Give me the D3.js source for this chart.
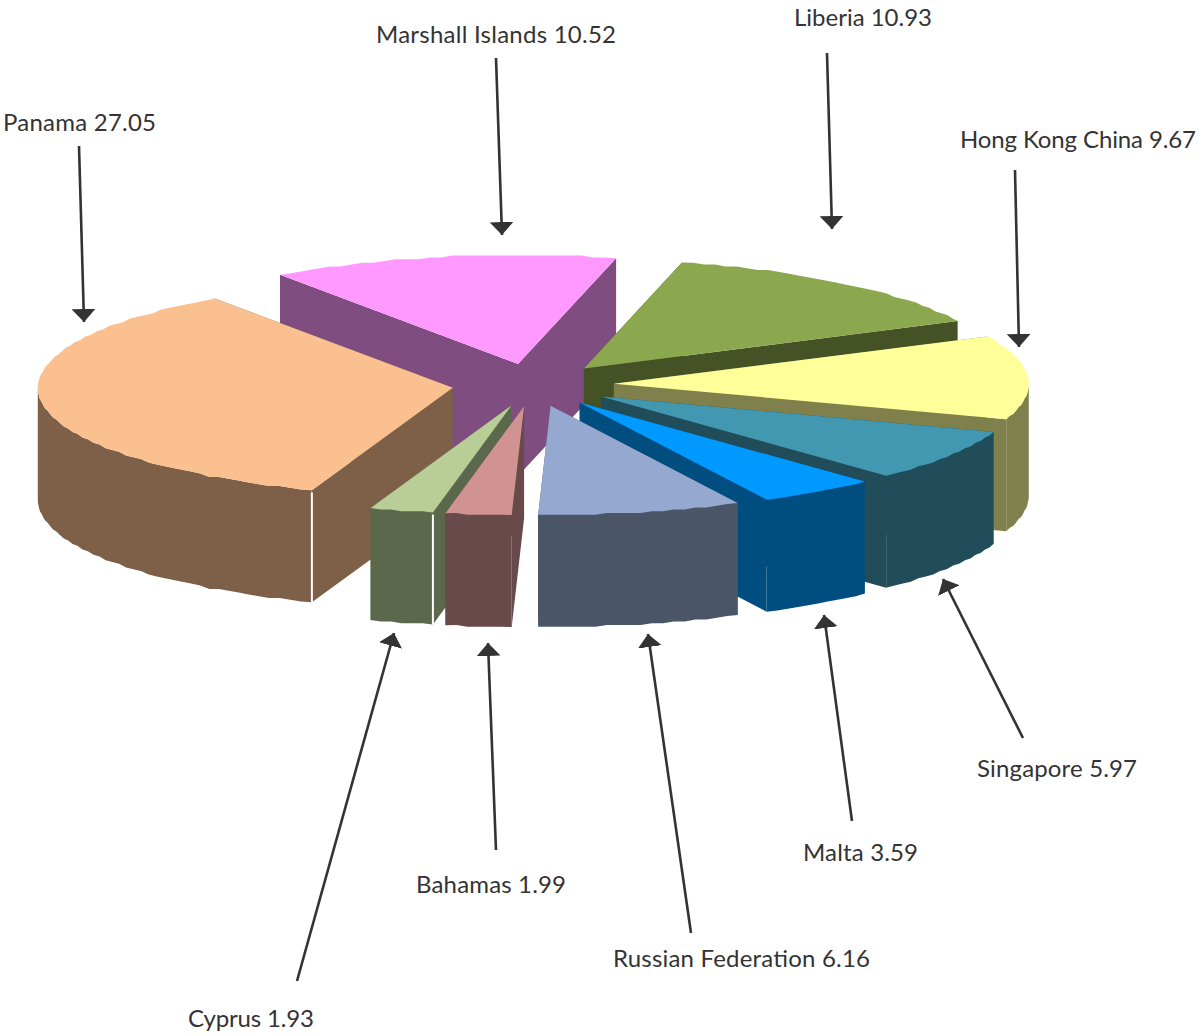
<!DOCTYPE html>
<html>
<head>
<meta charset="utf-8">
<script src="https://cdn.jsdelivr.net/npm/d3@7"></script>
<style>
  html, body { margin: 0; padding: 0; background: #fff; }
  text { font-family: Lato, "Open Sans", sans-serif; font-size: 24px; fill: #333; }
</style>
</head>
<body>
<svg id="chart" width="1199" height="1036"></svg>
<script>
// clockwise from the Marshall Islands slice, values as labelled
const names = ["Marshall Islands", "Liberia", "Hong Kong China", "Singapore", "Malta",
    "Russian Federation", "Bahamas", "Cyprus", "Panama"]
const values = [10.52, 10.93, 9.67, 5.97, 3.59, 6.16, 1.99, 1.93, 27.05]

const topColors = ["#ff99ff", "#8ba84f", "#ffff99", "#4198b0", "#0099ff", "#95a9d0", "#d09392", "#b8ce96", "#fbc08f"]
const sideColors = ["#804d80", "#445226", "#80804d", "#214d5a", "#004d80", "#4a5568", "#674a49", "#5c684b", "#7d6047"]

// label anchor and width, then arrow tail and tip, same order as names
const labelX = [376, 794, 960, 977, 803, 613, 416, 188, 3]
const labelY = [43, 26, 148, 777, 861, 967, 893, 1027, 131]
const labelW = [240, 138, 236, 160, 115, 257, 150, 126, 153]
const arrowFrom = [[496, 58], [827, 53], [1015, 170], [1023, 738], [852, 821], [691, 933], [496, 850], [297, 981], [79, 146]]
const arrowTo = [[502, 235], [832, 229], [1019, 347], [943, 579], [824, 615], [648, 634], [488, 643], [394, 633], [84, 322]]

const cx = 533, cy = 385, rx = 415, ry = 109
const depth = 112
const explode = 0.195
const startDeg = -35

const svg = d3.select("#chart")

// the pie lies flat, so unit circle coordinates get squashed into an ellipse
const xScale = d3.scaleLinear().domain([-1, 1]).range([cx - rx, cx + rx])
const yScale = d3.scaleLinear().domain([-1, 1]).range([cy - ry, cy + ry])

const start = startDeg * Math.PI / 180
const pie = d3.pie().sort(null).startAngle(start).endAngle(start + 2 * Math.PI)
const arcs = pie(values)

function point(a, r, o) {
    return [xScale(r * Math.sin(a) + o[0]), yScale(-r * Math.cos(a) + o[1])]
}

const slices = arcs.map(d => {
    const mid = (d.startAngle + d.endAngle) / 2
    const off = [explode * Math.sin(mid), -explode * Math.cos(mid)]
    const steps = Math.max(3, Math.round((d.endAngle - d.startAngle) / 0.028))
    const angles = d3.range(steps + 1).map(i => d.startAngle + (d.endAngle - d.startAngle) * i / steps)
    const rim = angles.map((a, i) => {
        const p = point(a, 1, off)
        // the original rim is stepped, so snap the in between points
        return (i === 0 || i === steps) ? p : [p[0], Math.round(p[1] / 1.8) * 1.8]
    })
    // only the part of the rim facing the viewer gets a wall
    const front = rim.filter((p, i) => Math.cos(angles[i]) <= 0.02)
    return {i: d.index, mid, apex: point(0, 0, off), rim, front}
})

const line = d3.line()
const down = p => [p[0], p[1] + depth]

const groups = svg.append("g")
    .selectAll("g")
    .data(slices.slice().sort((a, b) => -Math.cos(a.mid) - -Math.cos(b.mid)))
    .join("g")

// two cut walls
groups.append("path")
    .attr("fill", d => sideColors[d.i])
    .attr("d", d => {
        const a = d.rim[0], b = d.rim[d.rim.length - 1]
        return line([a, d.apex, down(d.apex), down(a)]) + "Z" + line([b, d.apex, down(d.apex), down(b)]) + "Z"
    })

// outer wall
groups.filter(d => d.front.length > 1).append("path")
    .attr("fill", d => sideColors[d.i])
    .attr("d", d => line(d.front.concat(d.front.map(down).reverse())) + "Z")

// white seam where the rim meets the cut wall, Panama and Cyprus only
groups.filter(d => d.i === 8 || d.i === 7).append("line")
    .attr("x1", d => d.rim[0][0]).attr("x2", d => d.rim[0][0])
    .attr("y1", d => d.rim[0][1] + 2).attr("y2", d => d.rim[0][1] + depth)
    .attr("stroke", "#fff").attr("stroke-width", 2)

groups.append("path")
    .attr("fill", d => topColors[d.i])
    .attr("d", d => line([d.apex].concat(d.rim)) + "Z")

svg.append("defs").append("marker")
    .attr("id", "head")
    .attr("markerUnits", "userSpaceOnUse")
    .attr("viewBox", "0 -12 13 24")
    .attr("refX", 13).attr("refY", 0)
    .attr("markerWidth", 13).attr("markerHeight", 24)
    .attr("orient", "auto")
    .append("path")
    .attr("d", "M0,-12L13,0L0,12Z")
    .attr("fill", "#333")

svg.append("g")
    .selectAll("line")
    .data(names)
    .join("line")
    .attr("x1", (d, i) => arrowFrom[i][0]).attr("y1", (d, i) => arrowFrom[i][1])
    .attr("x2", (d, i) => arrowTo[i][0]).attr("y2", (d, i) => arrowTo[i][1])
    .attr("stroke", "#333")
    .attr("stroke-width", 2.6)
    .attr("marker-end", "url(#head)")

svg.append("g")
    .selectAll("text")
    .data(names)
    .join("text")
    .attr("x", (d, i) => labelX[i])
    .attr("y", (d, i) => labelY[i])
    .attr("textLength", (d, i) => labelW[i])
    .text((d, i) => `${d} ${values[i]}`)
</script>
</body>
</html>
